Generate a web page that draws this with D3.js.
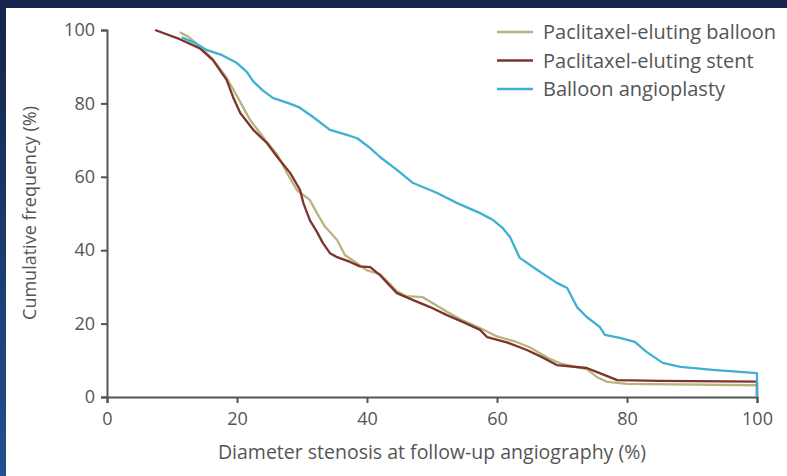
<!DOCTYPE html>
<html>
<head>
<meta charset="utf-8">
<script src="https://cdn.jsdelivr.net/npm/d3@7"></script>
<style>
  body { margin: 0; background: #15244a; }
  svg { display: block; }
  text { font-family: "Open Sans", "Noto Sans", sans-serif; fill: #555; }
</style>
</head>
<body>
<svg id="chart" width="787" height="476"></svg>
<script>
// data: [diameter stenosis %, cumulative frequency %]
var balloon = [[11.2,99.4],[12.5,98.2],[14.3,95.5],[16.3,92],[18.4,87],[20,82],[22,75.5],[24.6,69.5],[26.2,66],[27.7,61],[29.2,56.4],[31.2,53.7],[32.3,50.1],[33.5,46.5],[35.4,42.8],[36.6,38.7],[38,37],[40,34.5],[42,33.5],[44.6,28.8],[46,27.5],[48.6,27.2],[52.3,23.2],[54.8,20.8],[57.4,18.8],[60,16.5],[63,15],[65.1,13.5],[68,10.5],[70,9],[73.8,7.6],[75.4,5.4],[77,4.1],[80,3.6],[100,3.2],[100,0]]
var stent = [[7.4,100],[11.2,97.5],[14.3,95],[16.3,91.8],[18.4,86.4],[19.4,81.7],[20.5,77.4],[22.5,72.8],[24.6,69.2],[26.2,65.4],[28.2,61],[29.7,56.4],[30.2,52.9],[31.2,48.2],[32.3,45],[33.2,42],[34.3,39.2],[35.4,38.1],[37.4,36.8],[38.9,35.6],[40.5,35.4],[42,33.2],[44.6,28.3],[47.1,26.4],[49.7,24.5],[52.3,22.3],[54.8,20.4],[57.4,18.3],[58.5,16.3],[61.5,14.9],[64.6,12.8],[67,10.8],[69.2,8.7],[73.8,7.9],[75.8,6.5],[78.5,4.6],[85,4.4],[100,4.2],[100,0]]
var angioplasty = [[11.5,98],[13.5,96.5],[15.4,94.5],[17.5,93.3],[20,91],[21.5,88.6],[22.5,86],[24,83.5],[25.5,81.5],[28,80],[29.5,79],[31.7,76.3],[34.3,72.8],[36.9,71.4],[38.5,70.5],[40.5,67.8],[42,65.4],[44.6,61.9],[47.1,58.3],[50.8,55.6],[53.8,52.9],[57.4,50.1],[59.4,48.2],[60.9,46],[62,43.6],[63.5,37.9],[66.2,34.6],[69.2,31.1],[70.8,29.7],[72.3,24.5],[73.8,21.8],[75.8,19.1],[76.6,16.9],[78.9,16.1],[81.2,15],[83,12.3],[85.5,9.3],[88.2,8.2],[93.2,7.4],[100,6.5],[100,0]]

var seriesNames = ["Paclitaxel-eluting balloon", "Paclitaxel-eluting stent", "Balloon angioplasty"]
var seriesColors = ["#b9b47e", "#7e342c", "#3fb0d2"]
var xTicks = [0, 20, 40, 60, 80, 100]
var yTicks = [0, 20, 40, 60, 80, 100]

var svg = d3.select("#chart")

// dark frame + white panel
var defs = svg.append("defs")
var grad = defs.append("linearGradient").attr("id", "frame")
  .attr("x1", 0).attr("y1", 0).attr("x2", 0).attr("y2", 1)
grad.append("stop").attr("offset", "0%").attr("stop-color", "#15244a")
grad.append("stop").attr("offset", "100%").attr("stop-color", "#22508f")
svg.append("rect").attr("width", 787).attr("height", 476).attr("fill", "url(#frame)")
svg.append("rect").attr("x", 6).attr("y", 8).attr("width", 781).attr("height", 468).attr("fill", "#fff")

var x = d3.scaleLinear().domain([0, 100]).range([107, 757])
var y = d3.scaleLinear().domain([0, 100]).range([397, 30])

//座標軸
var xAxis = svg.append("g")
  .attr("transform", "translate(0,397)")
  .call(d3.axisBottom(x).tickValues(xTicks).tickSize(6).tickPadding(9))
var yAxis = svg.append("g")
  .attr("transform", "translate(107,0)")
  .call(d3.axisLeft(y).tickValues(yTicks).tickSize(6).tickPadding(6))

svg.selectAll(".domain").attr("stroke", "#555").attr("stroke-width", 2)
svg.selectAll(".tick line").attr("stroke", "#555").attr("stroke-width", 2)
svg.selectAll(".tick text").style("font-size", "18px").attr("fill", "#555")

svg.append("text")
  .attr("x", 432).attr("y", 459)
  .attr("text-anchor", "middle")
  .style("font-size", "19.5px")
  .text("Diameter stenosis at follow-up angiography (%)")

svg.append("text")
  .attr("transform", "translate(36,213) rotate(-90)")
  .attr("text-anchor", "middle")
  .style("font-size", "18px")
  .text("Cumulative frequency (%)")

//折線
var line = d3.line()
  .x(d => x(d[0]))
  .y(d => y(d[1]))

var allSeries = [balloon, stent, angioplasty]
svg.selectAll("path.series")
  .data(allSeries)
  .enter().append("path")
  .attr("class", "series")
  .attr("d", line)
  .attr("fill", "none")
  .attr("stroke", (d, i) => seriesColors[i])
  .attr("stroke-width", 2.3)
  .attr("stroke-linejoin", "round")

//圖例
var legend = svg.selectAll("g.legend")
  .data(seriesNames)
  .enter().append("g")
  .attr("class", "legend")
  .attr("transform", (d, i) => `translate(497,${32 + i * 28.5})`)
legend.append("line")
  .attr("x1", 0).attr("x2", 36)
  .attr("stroke", (d, i) => seriesColors[i])
  .attr("stroke-width", 2.3)
legend.append("text")
  .attr("x", 46).attr("dy", "0.35em")
  .style("font-size", "20px")
  .text(d => d)
</script>
</body>
</html>
